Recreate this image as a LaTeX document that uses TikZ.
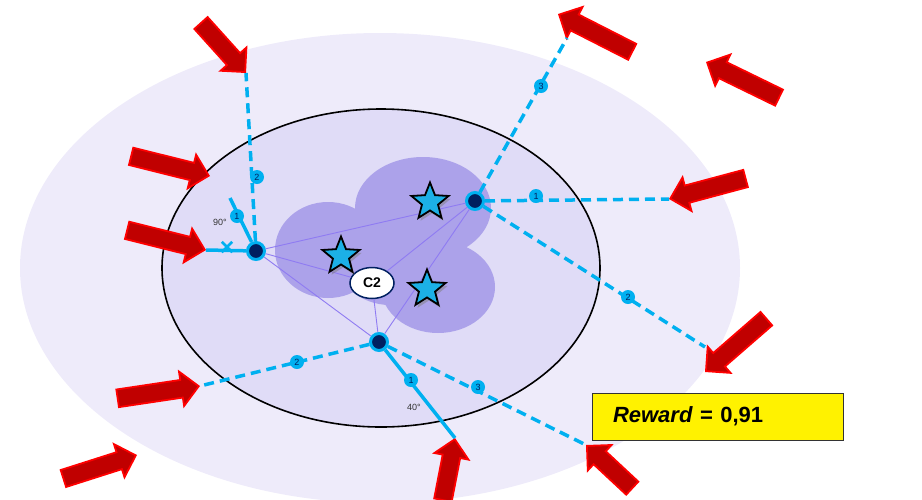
\documentclass[tikz,border=0pt]{standalone}
\usepackage{fontspec}
\setmainfont{Liberation Sans}
\usetikzlibrary{shapes.geometric,shapes.arrows,shapes.misc,shadows}

\definecolor{outerlav}{HTML}{EEEBFA}
\definecolor{innerlav}{HTML}{E0DCF7}
\definecolor{cloudlav}{HTML}{ACA2EA}
\definecolor{linkviolet}{HTML}{8F7BF2}
\definecolor{skyblue}{HTML}{00B0F0}
\definecolor{navy}{HTML}{002060}
\definecolor{darkred}{HTML}{C00000}
\definecolor{starblue}{HTML}{1CB0E6}

\tikzset{
  sensor/.style={circle,fill=navy,draw=skyblue,line width=3pt,minimum size=17pt,inner sep=0pt},
  link/.style={linkviolet,line width=0.9pt},
  ray/.style={skyblue,line width=3.5pt},
  dashray/.style={ray,dash pattern=on 10pt off 6pt},
  hopnum/.style={circle,fill=skyblue,inner sep=0pt,minimum size=14pt,font=\fontsize{9}{9}\selectfont,text=navy},
  angtext/.style={font=\fontsize{9}{9}\selectfont,text=black!80},
  hitarrow/.style={single arrow,fill=darkred,draw=red,line width=1.8pt,inner xsep=0pt,inner ysep=8pt,
    single arrow head extend=8.5pt,single arrow tip angle=90,anchor=tip},
  target/.style={star,star points=5,star point ratio=2.3,minimum size=39pt,inner sep=0pt,
    fill=starblue,draw=black,line width=1.8pt,
    drop shadow={shadow xshift=2pt,shadow yshift=-3pt,opacity=0.5}}
}

\begin{document}
\begin{tikzpicture}[x=1pt,y=-1pt]
  \useasboundingbox (0,0) rectangle (922,499);

  % zones
  \fill[outerlav] (380,268) ellipse [x radius=360, y radius=235];
  \filldraw[fill=innerlav,draw=black,line width=1.6pt] (381,268) ellipse [x radius=219, y radius=159];
  \fill[cloudlav] (328,250) ellipse [x radius=53, y radius=48]
    (423,208) ellipse [x radius=68, y radius=51]
    (438,287) ellipse [x radius=57, y radius=46]
    (390,255) ellipse [x radius=55, y radius=50];

  % sensors and cluster head
  \node[sensor] (sA) at (256,251) {};
  \node[sensor] (sB) at (475,201) {};
  \node[sensor] (sC) at (379,342) {};
  \node[ellipse,draw=navy,fill=white,line width=1.5pt,minimum width=44pt,minimum height=31pt,
    inner sep=0pt,font=\bfseries\fontsize{14}{14}\selectfont] (c2) at (372,283) {C2};

  \draw[link] (sA) -- (sB);
  \draw[link] (sA) -- (sC);
  \draw[link] (sB) -- (sC);
  \draw[link] (sA) -- (c2);
  \draw[link] (sB) -- (c2);
  \draw[link] (sC) -- (c2);

  % targets
  \node[target] (t1) at (430,202) {};
  \node[target] (t2) at (341,256) {};
  \node[target] (t3) at (427,289) {};

  % incoming attacks
  \node[hitarrow,rotate=-48,minimum height=66pt] (arr1) at (246,73) {};
  \node[hitarrow,rotate=-14,minimum height=80pt] (arr2) at (210,176) {};
  \node[hitarrow,rotate=-14,minimum height=80pt] (arr3) at (206,250) {};
  \node[hitarrow,rotate=8.5,minimum height=82pt] (arr4) at (200,386) {};
  \node[hitarrow,rotate=17.7,minimum height=76pt] (arr5) at (137,455) {};
  \node[hitarrow,rotate=79,minimum height=62pt] (arr6) at (455,438) {};
  \node[hitarrow,rotate=137,minimum height=62pt] (arr7) at (586,445) {};
  \node[hitarrow,rotate=221,minimum height=80pt] (arr8) at (705,372) {};
  \node[hitarrow,rotate=195,minimum height=78pt] (arr9) at (669,199) {};
  \node[hitarrow,rotate=153,minimum height=82pt] (arr10) at (558,14) {};
  \node[hitarrow,rotate=154,minimum height=80pt] (arr11) at (706,62) {};

  \coordinate (e90) at (230,198);
  \coordinate (e8) at (705,347);
  \coordinate (e10) at (567,38);

  % beams
  \draw[dashray] (sA) -- (arr1.tip);
  \draw[ray] (sA) -- (e90);
  \draw[ray] (sA) -- (arr3.tip);
  \draw[dashray] (sB) -- (e10);
  \draw[dashray] (sB) -- (arr9.tip);
  \draw[dashray] (sB) -- (e8);
  \draw[dashray] (sC) -- (arr4.tip);
  \draw[ray] (sC) -- (arr6.tip);
  \draw[dashray] (sC) -- (arr7.tip);

  \node[cross out,draw=skyblue,line width=2.5pt,minimum size=8pt,inner sep=0pt] (xmark) at (227,247) {};

  \node[hopnum] (lA1) at (237,216) {1};
  \node[hopnum] (lA2) at (257,177) {2};
  \node[hopnum] (lB3) at (541,86) {3};
  \node[hopnum] (lB1) at (536,196) {1};
  \node[hopnum] (lB2) at (628,297) {2};
  \node[hopnum] (lC2) at (297,362) {2};
  \node[hopnum] (lC1) at (411,380) {1};
  \node[hopnum] (lC3) at (478,387) {3};

  \node[angtext] (ang90) at (220,222) {90°};
  \node[angtext] (ang40) at (414,407) {40°};

  % score
  \node[draw=black!80,fill=yellow,line width=1pt,text width=209pt,align=left,inner xsep=21pt,
    minimum height=47pt,font=\bfseries\fontsize{22}{22}\selectfont] (reward) at (717.5,416.5)
    {\textit{Reward} = 0,91};
\end{tikzpicture}
\end{document}
